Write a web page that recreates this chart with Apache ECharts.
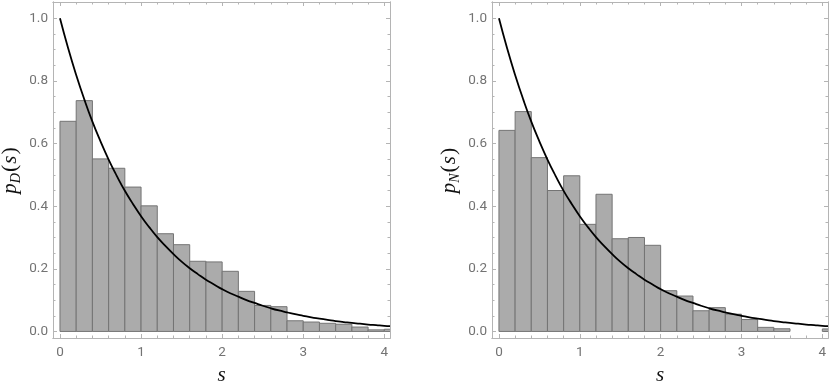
<!DOCTYPE html>
<html>
<head>
<meta charset="utf-8">
<script src="https://cdn.jsdelivr.net/npm/echarts@6/dist/echarts.min.js"></script>
<style>html,body{margin:0;padding:0;background:#fff}#c{width:830px;height:389px}</style>
</head>
<body>
<div id="c"></div>
<script>
// ---- data ----
const binStarts = [0,0.2,0.4,0.6,0.8,1.0,1.2,1.4,1.6,1.8,2.0,2.2,2.4,2.6,2.8,3.0,3.2,3.4,3.6,3.8,4.0];
const binWidth = 0.2;
const pD = [0.671,0.737,0.551,0.521,0.461,0.401,0.312,0.277,0.224,0.222,0.192,0.128,0.083,0.079,0.034,0.030,0.026,0.023,0.014,0.005,0.007];
const pN = [0.642,0.702,0.555,0.450,0.497,0.342,0.438,0.296,0.300,0.275,0.130,0.113,0.066,0.076,0.055,0.038,0.013,0.0085,0,0,0.008];
const curveS = [0,0.1,0.2,0.3,0.4,0.5,0.6,0.7,0.8,0.9,1.0,1.1,1.2,1.3,1.4,1.5,1.6,1.7,1.8,1.9,2.0,2.1,2.2,2.3,2.4,2.5,2.6,2.7,2.8,2.9,3.0,3.1,3.2,3.3,3.4,3.5,3.6,3.7,3.8,3.9,4.0,4.07];
const curveP = [1.000,0.905,0.819,0.741,0.670,0.607,0.549,0.497,0.449,0.407,0.368,0.333,0.301,0.273,0.247,0.223,0.202,0.183,0.165,0.150,0.135,0.122,0.111,0.100,0.091,0.082,0.074,0.067,0.061,0.055,0.050,0.045,0.041,0.037,0.033,0.030,0.027,0.025,0.022,0.020,0.018,0.017];
const xMajorTicks = [0,1,2,3,4];
const xMinorTicks = [0.2,0.4,0.6,0.8,1.2,1.4,1.6,1.8,2.2,2.4,2.6,2.8,3.2,3.4,3.6,3.8];
const yMajorTicks = [0,0.2,0.4,0.6,0.8,1.0];
const yMinorTicks = [0.05,0.1,0.15,0.25,0.3,0.35,0.45,0.5,0.55,0.65,0.7,0.75,0.85,0.9,0.95,1.05];
const xRange = [-0.086, 4.07];
const yRange = [-0.021, 1.052];

const frameColor = '#b4b4b4';
const labelColor = '#737373';

function xAx(grid, pos, values, len, labels) {
  return {
    type:'value', gridIndex:grid, position:pos, min:xRange[0], max:xRange[1],
    axisLine:{show:true, onZero:false, lineStyle:{color:frameColor, width:1}},
    splitLine:{show:false},
    axisTick:{show:true, inside:true, length:len, customValues:values, lineStyle:{color:frameColor}},
    axisLabel:{show:labels, customValues:values, color:labelColor, fontSize:13.5, fontFamily:'Roboto', margin:8,
      formatter:v=>String(v)}
  };
}
function yAx(grid, pos, values, len, labels) {
  return {
    type:'value', gridIndex:grid, position:pos, min:yRange[0], max:yRange[1],
    axisLine:{show:true, onZero:false, lineStyle:{color:frameColor, width:1}},
    splitLine:{show:false},
    axisTick:{show:true, inside:true, length:len, customValues:values, lineStyle:{color:frameColor}},
    axisLabel:{show:labels, customValues:values, color:labelColor, fontSize:13.5, fontFamily:'Roboto', margin:5,
      formatter:v=>v.toFixed(1)}
  };
}

const nameRich = {
  p:{fontFamily:'Liberation Serif', fontStyle:'italic', fontSize:21, lineHeight:26, color:'#111'},
  par:{fontFamily:'Liberation Serif', fontSize:22, lineHeight:26, color:'#111', padding:[0,1,0,1]},
  sub:{fontFamily:'Liberation Serif', fontStyle:'italic', fontSize:14, lineHeight:12, verticalAlign:'bottom', color:'#111'}
};

const xAxes = [], yAxes = [];
const names = ['D','N'];
for (let g=0; g<2; g++) {
  const xm = xAx(g,'bottom',xMajorTicks,4,true);
  xm.name = 's'; xm.nameLocation='middle'; xm.nameGap=26;
  xm.nameTextStyle = {fontFamily:'Liberation Serif', fontStyle:'italic', fontSize:21, color:'#111'};
  xAxes.push(xm, xAx(g,'bottom',xMinorTicks,2.5,false), xAx(g,'top',xMajorTicks,4,false), xAx(g,'top',xMinorTicks,2.5,false));
  const ym = yAx(g,'left',yMajorTicks,4,true);
  ym.name = '{p|p}{sub|'+names[g]+'}{par|(}{p|s}{par|)}';
  ym.nameLocation='middle'; ym.nameGap=30; ym.nameRotate=90;
  ym.nameTextStyle = {rich:nameRich};
  yAxes.push(ym, yAx(g,'left',yMinorTicks,2.5,false), yAx(g,'right',yMajorTicks,4,false), yAx(g,'right',yMinorTicks,2.5,false));
}

function histData(vals){ return binStarts.map((s,i)=>[s, s+binWidth, vals[i]]); }
function renderBar(params, api){
  const h = api.value(2);
  if (!(h > 0)) return null;
  const p0 = api.coord([api.value(0), 0]);
  const p1 = api.coord([api.value(1), h]);
  return {type:'rect', shape:{x:p0[0], y:p1[1], width:p1[0]-p0[0], height:p0[1]-p1[1]},
    style:{fill:'#ababab', stroke:'#747474', lineWidth:1}};
}
const curveData = curveS.map((s,i)=>[s, curveP[i]]);

const series = [];
[pD, pN].forEach((vals, g) => {
  series.push({type:'custom', xAxisIndex:g*4, yAxisIndex:g*4, data:histData(vals), renderItem:renderBar, clip:true, silent:true, z:2});
  series.push({type:'line', xAxisIndex:g*4, yAxisIndex:g*4, data:curveData, smooth:true, showSymbol:false, clip:true,
    lineStyle:{color:'#000', width:1.8}, silent:true, z:3});
});

const chart = echarts.init(document.getElementById('c'), null, {renderer:'canvas'});
chart.setOption({
  animation:false,
  backgroundColor:'#fff',
  grid:[
    {left:53, top:2, width:337, height:336, containLabel:false, outerBoundsMode:'none'},
    {left:492, top:2, width:336, height:336, containLabel:false, outerBoundsMode:'none'}
  ],
  xAxis:xAxes, yAxis:yAxes, series:series
});
</script>
</body>
</html>
